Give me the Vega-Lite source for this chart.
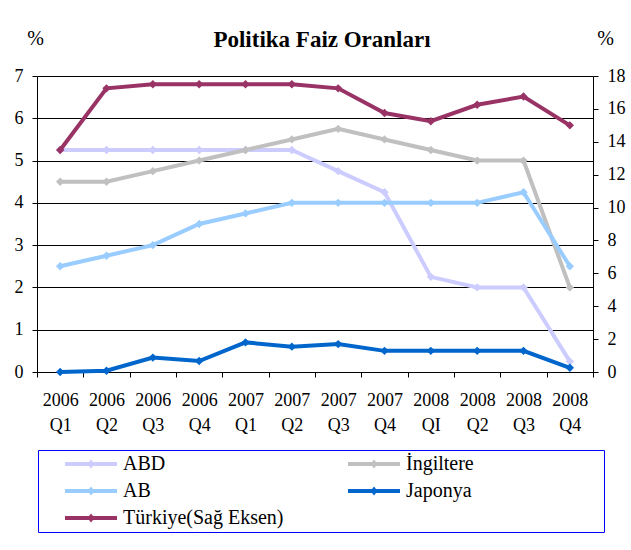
{
  "$schema": "https://vega.github.io/schema/vega-lite/v6.json",
  "width": 556,
  "height": 296,
  "autosize": "none",
  "padding": {"left": 37, "top": 76, "right": 38, "bottom": 178},
  "background": "white",
  "title": {
    "text": "Politika Faiz Oranları",
    "font": "Liberation Serif, Times New Roman, serif",
    "fontSize": 23,
    "fontWeight": "bold",
    "color": "black",
    "anchor": "middle",
    "dx": 7,
    "offset": -24
  },
  "config": {
    "view": {"stroke": null},
    "font": "Liberation Serif, Times New Roman, serif",
    "axis": {
      "labelFont": "Liberation Serif, Times New Roman, serif",
      "labelFontSize": 18,
      "labelColor": "black",
      "titleFont": "Liberation Serif, Times New Roman, serif",
      "titleFontSize": 20,
      "titleFontWeight": "normal",
      "titleColor": "black",
      "domainColor": "black",
      "tickColor": "black",
      "tickSize": 5,
      "labelPadding": 9
    }
  },
  "encoding": {
    "x": {
      "field": "q",
      "type": "ordinal",
      "bandPosition": 0.5,
      "scale": {
        "type": "band",
        "paddingInner": 0,
        "paddingOuter": 0,
        "domain": ["2006 Q1","2006 Q2","2006 Q3","2006 Q4","2007 Q1","2007 Q2","2007 Q3","2007 Q4","2008 QI","2008 Q2","2008 Q3","2008 Q4"]
      },
      "axis": {
        "title": null,
        "labelAngle": 0,
        "tickBand": "extent",
        "labelExpr": "split(datum.label, ' ')",
        "labelLineHeight": 25,
        "labelPadding": 14,
        "grid": false
      }
    }
  },
  "layer": [
    {
      "data": {
        "values": [
          {"q": "2006 Q1", "series": "ABD", "v": 5.25},
          {"q": "2006 Q2", "series": "ABD", "v": 5.25},
          {"q": "2006 Q3", "series": "ABD", "v": 5.25},
          {"q": "2006 Q4", "series": "ABD", "v": 5.25},
          {"q": "2007 Q1", "series": "ABD", "v": 5.25},
          {"q": "2007 Q2", "series": "ABD", "v": 5.25},
          {"q": "2007 Q3", "series": "ABD", "v": 4.75},
          {"q": "2007 Q4", "series": "ABD", "v": 4.25},
          {"q": "2008 QI", "series": "ABD", "v": 2.25},
          {"q": "2008 Q2", "series": "ABD", "v": 2.0},
          {"q": "2008 Q3", "series": "ABD", "v": 2.0},
          {"q": "2008 Q4", "series": "ABD", "v": 0.25},
          {"q": "2006 Q1", "series": "İngiltere", "v": 4.5},
          {"q": "2006 Q2", "series": "İngiltere", "v": 4.5},
          {"q": "2006 Q3", "series": "İngiltere", "v": 4.75},
          {"q": "2006 Q4", "series": "İngiltere", "v": 5.0},
          {"q": "2007 Q1", "series": "İngiltere", "v": 5.25},
          {"q": "2007 Q2", "series": "İngiltere", "v": 5.5},
          {"q": "2007 Q3", "series": "İngiltere", "v": 5.75},
          {"q": "2007 Q4", "series": "İngiltere", "v": 5.5},
          {"q": "2008 QI", "series": "İngiltere", "v": 5.25},
          {"q": "2008 Q2", "series": "İngiltere", "v": 5.0},
          {"q": "2008 Q3", "series": "İngiltere", "v": 5.0},
          {"q": "2008 Q4", "series": "İngiltere", "v": 2.0},
          {"q": "2006 Q1", "series": "AB", "v": 2.5},
          {"q": "2006 Q2", "series": "AB", "v": 2.75},
          {"q": "2006 Q3", "series": "AB", "v": 3.0},
          {"q": "2006 Q4", "series": "AB", "v": 3.5},
          {"q": "2007 Q1", "series": "AB", "v": 3.75},
          {"q": "2007 Q2", "series": "AB", "v": 4.0},
          {"q": "2007 Q3", "series": "AB", "v": 4.0},
          {"q": "2007 Q4", "series": "AB", "v": 4.0},
          {"q": "2008 QI", "series": "AB", "v": 4.0},
          {"q": "2008 Q2", "series": "AB", "v": 4.0},
          {"q": "2008 Q3", "series": "AB", "v": 4.25},
          {"q": "2008 Q4", "series": "AB", "v": 2.5},
          {"q": "2006 Q1", "series": "Japonya", "v": 0.0},
          {"q": "2006 Q2", "series": "Japonya", "v": 0.03},
          {"q": "2006 Q3", "series": "Japonya", "v": 0.34},
          {"q": "2006 Q4", "series": "Japonya", "v": 0.26},
          {"q": "2007 Q1", "series": "Japonya", "v": 0.7},
          {"q": "2007 Q2", "series": "Japonya", "v": 0.6},
          {"q": "2007 Q3", "series": "Japonya", "v": 0.66},
          {"q": "2007 Q4", "series": "Japonya", "v": 0.5},
          {"q": "2008 QI", "series": "Japonya", "v": 0.5},
          {"q": "2008 Q2", "series": "Japonya", "v": 0.5},
          {"q": "2008 Q3", "series": "Japonya", "v": 0.5},
          {"q": "2008 Q4", "series": "Japonya", "v": 0.1}
        ]
      },
      "mark": {"type": "line", "strokeWidth": 4, "point": {"shape": "diamond", "size": 70, "filled": true, "opacity": 1}},
      "encoding": {
        "y": {
          "field": "v",
          "type": "quantitative",
          "scale": {"domain": [0, 7], "nice": false, "zero": true},
          "axis": {
            "values": [0, 1, 2, 3, 4, 5, 6, 7],
            "grid": true,
            "gridColor": "black",
            "gridOpacity": 1,
            "gridWidth": 1,
            "title": "%",
            "titleAngle": 0,
            "titleAlign": "center",
            "titleBaseline": "middle",
            "titleX": -2,
            "titleY": -38
          }
        },
        "color": {
          "field": "series",
          "type": "nominal",
          "scale": {
            "domain": ["ABD", "İngiltere", "AB", "Japonya", "Türkiye(Sağ Eksen)"],
            "range": ["#ccccff", "#c0c0c0", "#99ccff", "#0066cc", "#993366"]
          },
          "legend": {
            "title": "\u00a0",
            "titleOrient": "right",
            "titlePadding": 126,
            "titleFontSize": 20,
            "orient": "none",
            "legendX": 1,
            "legendY": 374,
            "direction": "horizontal",
            "columns": 2,
            "gridAlign": "all",
            "columnPadding": 41,
            "rowPadding": 7,
            "padding": 4,
            "strokeColor": "#0000ff",
            "symbolType": "M-5.2,-0.4L5.2,-0.4L5.2,0.4L-5.2,0.4ZM0,-0.9L0.7,0L0,0.9L-0.7,0Z",
            "symbolSize": 100,
            "symbolStrokeWidth": 0,
            "symbolOffset": 39,
            "labelOffset": 22,
            "labelFont": "Liberation Serif, Times New Roman, serif",
            "labelFontSize": 20,
            "labelColor": "black",
            "labelLimit": 300,
            "encode": {
              "symbols": {"update": {"fill": {"scale": "color", "field": "value"}, "fillOpacity": {"value": 1}, "opacity": {"value": 1}}}
            }
          }
        }
      }
    },
    {
      "data": {
        "values": [
          {"q": "2006 Q1", "series": "Türkiye(Sağ Eksen)", "v": 13.5},
          {"q": "2006 Q2", "series": "Türkiye(Sağ Eksen)", "v": 17.25},
          {"q": "2006 Q3", "series": "Türkiye(Sağ Eksen)", "v": 17.5},
          {"q": "2006 Q4", "series": "Türkiye(Sağ Eksen)", "v": 17.5},
          {"q": "2007 Q1", "series": "Türkiye(Sağ Eksen)", "v": 17.5},
          {"q": "2007 Q2", "series": "Türkiye(Sağ Eksen)", "v": 17.5},
          {"q": "2007 Q3", "series": "Türkiye(Sağ Eksen)", "v": 17.25},
          {"q": "2007 Q4", "series": "Türkiye(Sağ Eksen)", "v": 15.75},
          {"q": "2008 QI", "series": "Türkiye(Sağ Eksen)", "v": 15.25},
          {"q": "2008 Q2", "series": "Türkiye(Sağ Eksen)", "v": 16.25},
          {"q": "2008 Q3", "series": "Türkiye(Sağ Eksen)", "v": 16.75},
          {"q": "2008 Q4", "series": "Türkiye(Sağ Eksen)", "v": 15.0}
        ]
      },
      "mark": {"type": "line", "strokeWidth": 4, "point": {"shape": "diamond", "size": 70, "filled": true, "opacity": 1}},
      "encoding": {
        "y": {
          "field": "v",
          "type": "quantitative",
          "scale": {"domain": [0, 18], "nice": false, "zero": true},
          "axis": {
            "orient": "right",
            "values": [0, 2, 4, 6, 8, 10, 12, 14, 16, 18],
            "grid": false,
            "title": "%",
            "titleAngle": 0,
            "titleAlign": "center",
            "titleBaseline": "middle",
            "titleX": 12,
            "titleY": -38
          }
        },
        "color": {
          "field": "series",
          "type": "nominal",
          "scale": {
            "domain": ["ABD", "İngiltere", "AB", "Japonya", "Türkiye(Sağ Eksen)"],
            "range": ["#ccccff", "#c0c0c0", "#99ccff", "#0066cc", "#993366"]
          }
        }
      }
    }
  ],
  "resolve": {"scale": {"y": "independent"}}
}
